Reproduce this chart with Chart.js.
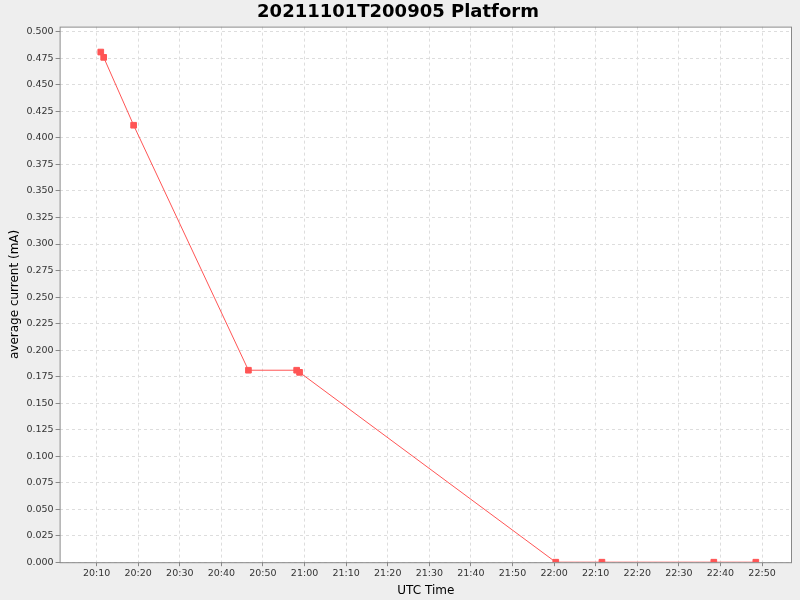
<!DOCTYPE html>
<html><head><meta charset="utf-8">
<script src="https://cdn.jsdelivr.net/npm/chart.js@4"></script>
<style>html,body{margin:0;padding:0;background:#eeeeee}#w{width:800px;height:600px}</style>
</head><body><div id="w"><canvas id="c"></canvas></div>
<script>
// minutes after 20:00 UTC
const timesMin = [11.0, 11.7, 18.9, 46.5, 58.1, 58.8, 120.4, 131.5, 158.4, 168.5];
const currentMA = [0.481, 0.476, 0.412, 0.181, 0.181, 0.179, 0.0, 0.0, 0.0, 0.0];
const xTicks = [10,20,30,40,50,60,70,80,90,100,110,120,130,140,150,160,170];
const yTicks = [0,0.025,0.05,0.075,0.1,0.125,0.15,0.175,0.2,0.225,0.25,0.275,0.3,0.325,0.35,0.375,0.4,0.425,0.45,0.475,0.5];

function fmt(m){const h=20+Math.floor(m/60), mm=m%60;return h+':'+String(mm).padStart(2,'0');}
const bg={id:'bg',beforeDraw(c){const a=c.chartArea,x=c.ctx;x.save();x.fillStyle='#fff';x.fillRect(a.left,a.top,a.right-a.left,a.bottom-a.top);x.restore();},
 afterDraw(c){const a=c.chartArea,x=c.ctx;x.save();x.strokeStyle='#888';x.lineWidth=1;x.strokeRect(a.left+0.5,a.top+0.5,a.right-a.left-1,a.bottom-a.top);x.restore();}};
new Chart(document.getElementById('c'),{type:'line',
 data:{datasets:[{data:timesMin.map((t,i)=>({x:t,y:currentMA[i]})),borderColor:'#ff5555',backgroundColor:'#ff5555',borderWidth:1,pointStyle:'rect',pointRadius:4,pointHoverRadius:4,tension:0}]},
 options:{responsive:true,maintainAspectRatio:false,animation:false,
  layout:{padding:{left:4,right:8,top:0,bottom:2}},
  plugins:{legend:{display:false},tooltip:{enabled:false},
   title:{display:true,text:'20211101T200905 Platform',color:'#000',font:{family:'DejaVu Sans',size:18,weight:'bold'},padding:{top:2,bottom:3}}},
  scales:{
   x:{type:'linear',min:1.1,max:177.2,afterBuildTicks(s){s.ticks=xTicks.map(v=>({value:v}));},
    ticks:{callback:v=>fmt(v),color:'#333',font:{family:'DejaVu Sans',size:9.5},maxRotation:0,autoSkip:false,padding:2},
    grid:{color:'#dddddd',tickLength:4,tickColor:'#888'},border:{dash:[3,3],display:false},
    title:{display:true,text:'UTC Time',color:'#000',font:{family:'DejaVu Sans',size:12},padding:{top:2,bottom:0}}},
   y:{min:0,max:0.505,afterBuildTicks(s){s.ticks=yTicks.map(v=>({value:v}));},
    ticks:{callback:v=>v.toFixed(3),color:'#333',font:{family:'DejaVu Sans',size:9.5},autoSkip:false,padding:2},
    grid:{color:'#dddddd',tickLength:4,tickColor:'#888'},border:{dash:[3,3],display:false},
    title:{display:true,text:'average current (mA)',color:'#000',font:{family:'DejaVu Sans',size:12},padding:{bottom:2}}}
  }},plugins:[bg]});
</script></body></html>
